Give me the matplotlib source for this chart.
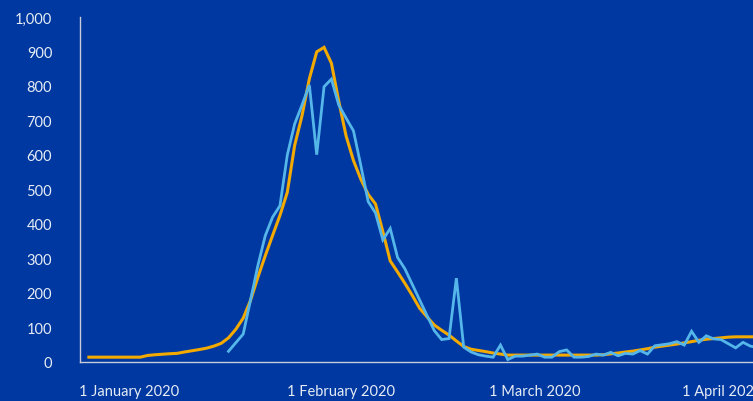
import matplotlib
matplotlib.use("Agg")
import matplotlib.pyplot as plt
import numpy as np

# Smoothed series (orange), one value per time step starting at index 0
orange_values = [14, 14, 14, 14, 14, 14, 14, 14, 19, 21,
                 22.5, 24, 25, 29, 32.5, 36, 40, 46, 54, 70,
                 95, 127, 179, 246, 308, 367, 425, 492, 628, 714,
                 821, 899, 912, 866, 756, 655, 584, 530, 486, 458,
                 378, 293, 261, 228, 193, 156, 131, 107, 92, 78,
                 61, 45, 37, 33.5, 30, 26, 23, 20, 20, 20,
                 20, 20, 20, 20, 20, 20, 20, 20, 20, 20,
                 21, 23.6, 26, 29, 31.5, 35, 38.5, 43, 46, 49,
                 52, 55.5, 59, 63, 66, 68, 70, 72, 73, 73,
                 73, 73]

# Daily series (light blue), starting at index 19
blue_start = 19
blue_values = [31, 56, 81, 180, 280, 366, 420, 453, 600, 690,
               745, 803, 601, 798, 820, 745, 707, 670, 570, 465,
               432, 354, 387, 303, 270, 225, 180, 135, 91, 65,
               68, 243, 43, 29, 21, 17, 14, 49, 7, 17,
               17, 20, 23, 14, 14, 30, 35, 14, 14, 16,
               23, 20, 28, 18, 25, 23, 33, 23, 47, 50,
               53, 59, 49, 89, 57, 76, 67, 65, 53, 41,
               57, 46, 42]

tick_labels = ["1 January 2020", "1 February 2020", "1 March 2020", "1 April 2020"]
tick_positions = [5.46, 34.28, 60.63, 86.21]
y_ticks = [0, 100, 200, 300, 400, 500, 600, 700, 800, 900, 1000]

BG = "#0038A1"
ORANGE = "#F2A900"
LIGHTBLUE = "#55B6EA"
TEXT = "#E6ECF5"
AXIS = "#C8CCD8"

plt.rcParams['font.family'] = ['Lato', 'DejaVu Sans']

fig = plt.figure(figsize=(7.53, 4.02), dpi=100, facecolor=BG)
ax = fig.add_axes([80/753, 39/402, 690/753, 345/402])
ax.set_facecolor(BG)

x_orange = np.arange(len(orange_values))
x_blue = np.arange(blue_start, blue_start + len(blue_values))

ax.plot(x_orange, orange_values, color=ORANGE, lw=2.2, solid_joinstyle='miter', zorder=3)
ax.plot(x_blue, blue_values, color=LIGHTBLUE, lw=2.0, solid_joinstyle='miter', zorder=4)

ax.set_xlim(-1.204, 92.67)
ax.set_ylim(0, 1000)

ax.set_yticks(y_ticks)
ax.set_yticklabels([f"{v:,}" for v in y_ticks])
ax.set_xticks(tick_positions)
ax.set_xticklabels(tick_labels)

ax.tick_params(axis='y', length=0, pad=20, labelsize=10.5, labelcolor=TEXT)
ax.tick_params(axis='x', length=0, pad=16, labelsize=10.5, labelcolor=TEXT)

for s in ['top', 'right']:
    ax.spines[s].set_visible(False)
for s in ['left', 'bottom']:
    ax.spines[s].set_color(AXIS)
    ax.spines[s].set_linewidth(1.0)

fig.savefig("out.png", dpi=100, facecolor=BG)
